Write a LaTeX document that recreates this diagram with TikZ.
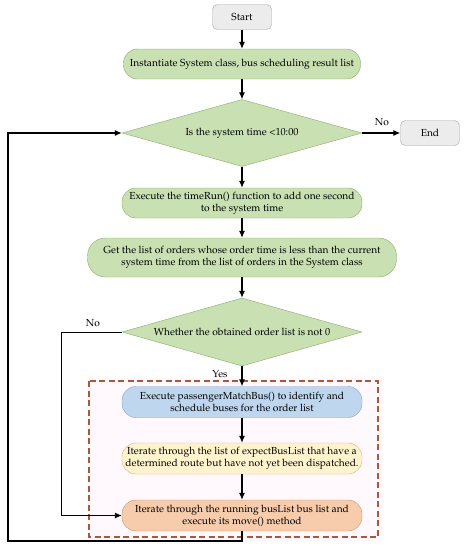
\documentclass[tikz,border=0pt]{standalone}
\usepackage[T1]{fontenc}
\usepackage{mathpazo}
\usetikzlibrary{arrows.meta,shapes.geometric}
\definecolor{greenF}{RGB}{200,224,178}
\definecolor{greenD}{RGB}{140,170,110}
\definecolor{grayF}{RGB}{236,236,236}
\definecolor{grayD}{RGB}{165,165,165}
\definecolor{blueF}{RGB}{190,214,238}
\definecolor{blueD}{RGB}{135,160,195}
\definecolor{yellowF}{RGB}{255,243,206}
\definecolor{yellowD}{RGB}{195,185,140}
\definecolor{orangeF}{RGB}{246,204,172}
\definecolor{orangeD}{RGB}{195,150,115}
\definecolor{dashD}{RGB}{170,88,58}
\definecolor{pinkF}{RGB}{255,248,252}
\begin{document}
\begin{tikzpicture}[>={Latex[length=7pt,width=6pt]},x=1pt,y=-1pt,
	font=\fontsize{10.2}{12.2}\selectfont,
	term/.style={draw=grayD,fill=grayF,rounded corners=5pt,minimum width=59pt,minimum height=25pt,inner sep=1pt},
	proc/.style={draw=greenD,fill=greenF,rounded corners=14pt,minimum width=240pt,minimum height=30pt,align=center,inner sep=1pt},
	cond/.style={diamond,draw=greenD,fill=greenF,aspect=3.6,minimum width=240pt,minimum height=67pt,inner sep=0pt},
	flow/.style={->,line width=1.1pt}]
	\useasboundingbox (0,0) rectangle (469,550);
	% pink background and dashed frame
	\fill[pinkF] (87,378) rectangle (383,542);
	\draw[dashD,line width=1.2pt,dash pattern=on 6pt off 3.5pt] (89,381) rectangle (378,537);
	% nodes
	\node[term] (start) at (242,17) {Start};
	\node[proc,minimum width=237pt] (init) at (242,64) {Instantiate System class, bus scheduling result list};
	\node[cond] (dtime) at (242,133) {Is the system time <10:00};
	\node[term] (fin) at (430,133) {End};
	\node[proc] (trun) at (242,203) {Execute the timeRun() function to add one second\\to the system time};
	\node[proc,minimum width=309pt,minimum height=39pt,rounded corners=18pt] (getl) at (242,257.5) {Get the list of orders whose order time is less than the current\\system time from the list of orders in the System class};
	\node[cond,minimum height=68pt] (dord) at (242,332) {Whether the obtained order list is not 0};
	\node[proc,draw=blueD,fill=blueF,minimum height=31pt] (match) at (242,402) {Execute passengerMatchBus() to identify and\\schedule buses for the order list};
	\node[proc,draw=yellowD,fill=yellowF,minimum height=31pt] (iter) at (242,458.5) {Iterate through the list of expectBusList that have a\\determined route but have not yet been dispatched.};
	\node[proc,draw=orangeD,fill=orangeF,minimum height=31pt] (move) at (242,515.5) {Iterate through the running busList bus list and\\execute its move() method};
	% connectors
	\draw[flow] (start) -- (init);
	\draw[flow] (init) -- (dtime);
	\draw[flow] (dtime) -- (fin);
	\draw[flow] (dtime) -- (trun);
	\draw[flow] (trun) -- (getl);
	\draw[flow] (getl) -- (dord);
	\draw[flow] (dord) -- (match);
	\draw[flow] (match) -- (iter);
	\draw[flow] (iter) -- (move);
	\coordinate (nocorner) at (61,332);
	\draw[flow,line width=0.9pt] (dord.west) -- (nocorner) |- (move.west);
	\coordinate (loopa) at (242,541);
	\coordinate (loopb) at (8,541);
	\draw[flow] (move.south) -- (loopa) -- (loopb) |- (dtime.west);
	% labels
	\node (lnoa) at (382,122) {No};
	\node (lnob) at (93,323) {No};
	\node (lyes) at (220,374) {Yes};
\end{tikzpicture}
\end{document}
